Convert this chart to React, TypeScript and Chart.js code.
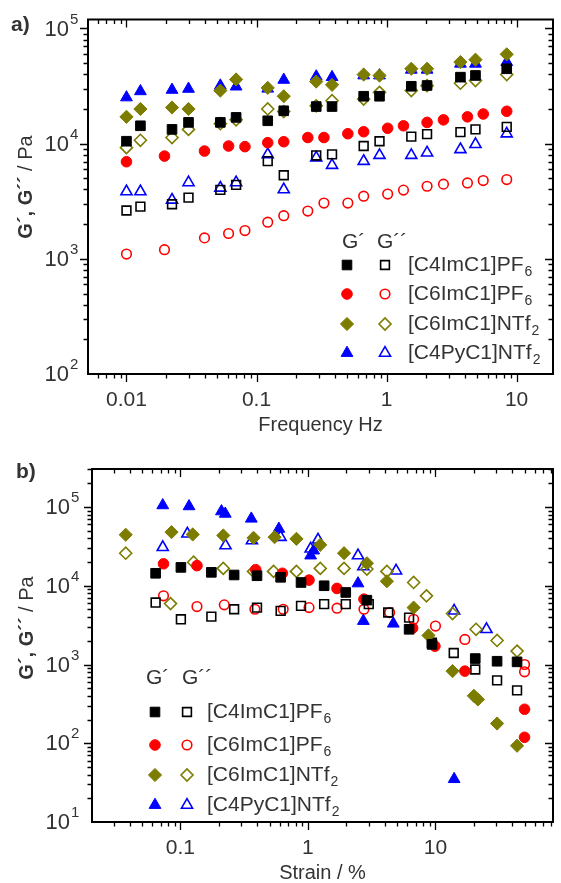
import React, { useEffect, useRef } from 'react';
import { Chart, registerables } from 'chart.js';
Chart.register(...registerables);

// ---------------- Panel a) frequency sweep ----------------
const freqA = [0.01, 0.0128, 0.0224, 0.03, 0.0527, 0.0697, 0.122, 0.162, 0.288, 0.381, 0.667, 0.883, 1.55, 2.05, 3.7, 4.83, 8.4];
const freqA_C6PF6 = [0.01, 0.0196, 0.0398, 0.061, 0.0815, 0.122, 0.162, 0.248, 0.33, 0.504, 0.667, 1.02, 1.35, 2.05, 2.74, 4.19, 5.54, 8.4];

const a_Gp_C4ImC1PF6 = [10500, 14300, 13300, 15300, 15300, 16900, 15800, 19300, 21000, 21000, 25800, 25800, 31500, 32000, 37800, 39100, 44700];
const a_Gpp_C4ImC1PF6 = [2630, 2840, 2980, 3400, 3970, 4390, 7050, 5320, 7900, 8070, 9540, 10500, 11500, 12100, 12600, 13300, 14000];
const a_Gp_C6ImC1PF6 = [6970, 7800, 8630, 9540, 9420, 10200, 10400, 11300, 11300, 12200, 12700, 13600, 14300, 15300, 16100, 17100, 18100, 19100];
const a_Gpp_C6ImC1PF6 = [1100, 1200, 1520, 1660, 1760, 2080, 2370, 2600, 3050, 3050, 3500, 3650, 3950, 4270, 4450, 4560, 4780, 4880];
const a_Gp_C6ImC1NTf2 = [17100, 20000, 20600, 20000, 28900, 36100, 30500, 25800, 34600, 32400, 39800, 39000, 44700, 44700, 51100, 53600, 59700];
const a_Gpp_C6ImC1NTf2 = [9230, 10700, 11300, 13300, 14900, 16100, 20000, 19000, 21300, 23600, 24400, 27900, 28900, 31900, 33500, 35300, 39800];
const a_Gp_C4PyC1NTf2 = [25200, 28500, 29300, 29900, 31900, 31300, 30000, 35800, 38300, 37800, 39100, 39100, 43800, 43800, 49400, 49400, 51100];
const a_Gpp_C4PyC1NTf2 = [3840, 3840, 3250, 4600, 4130, 4600, 8070, 3990, 7550, 6500, 7050, 7940, 7940, 8340, 8920, 9860, 12200];

// ---------------- Panel b) strain sweep ----------------
const b_x_Gp_C4ImC1PF6 = [0.064, 0.101, 0.175, 0.264, 0.399, 0.611, 0.883, 1.34, 1.98, 2.9, 6.21, 9.4, 20.5, 30.4, 43.6];
const b_Gp_C4ImC1PF6 = [14400, 17100, 14800, 13700, 13400, 12800, 11000, 10000, 8220, 6560, 2800, 1800, 1190, 1100, 1080];
const b_x_Gpp_C4ImC1PF6 = [0.064, 0.101, 0.175, 0.264, 0.399, 0.611, 0.883, 1.34, 1.98, 3.0, 4.26, 6.21, 9.37, 13.9, 20.5, 30.4, 43.6];
const b_Gpp_C4ImC1PF6 = [6120, 3750, 4060, 5030, 5280, 4800, 5560, 5840, 5840, 5840, 4570, 3940, 1890, 1400, 865, 628, 470];
const b_x_Gp_C6ImC1PF6 = [0.0738, 0.135, 0.39, 0.631, 1.02, 1.69, 2.75, 6.62, 9.9, 17.0, 49.9, 49.9];
const b_Gp_C6ImC1PF6 = [19000, 18000, 16000, 14400, 11800, 9250, 6760, 2900, 1710, 824, 270, 119];
const b_x_Gpp_C6ImC1PF6 = [0.0738, 0.135, 0.221, 0.384, 0.64, 1.02, 1.69, 2.75, 4.37, 6.74, 10.0, 17.0, 49.9, 49.9];
const b_Gpp_C6ImC1PF6 = [7450, 5440, 5720, 5030, 5030, 5280, 5190, 5030, 4570, 3750, 3080, 2080, 1000, 808];
const b_x_Gp_C6ImC1NTf2 = [0.0373, 0.0853, 0.125, 0.217, 0.375, 0.548, 0.813, 1.25, 1.92, 2.9, 4.16, 6.74, 8.81, 13.6, 20.0, 21.5, 30.4, 43.6];
const b_Gp_C6ImC1NTf2 = [44400, 48000, 44800, 43500, 40600, 41400, 39400, 33100, 25900, 19300, 11400, 5280, 2340, 824, 400, 360, 178, 93];
const b_x_Gpp_C6ImC1NTf2 = [0.0373, 0.0838, 0.127, 0.217, 0.375, 0.538, 0.813, 1.25, 1.92, 2.9, 4.16, 6.74, 8.5, 13.6, 20.8, 30.4, 43.6];
const b_Gpp_C6ImC1NTf2 = [25900, 5940, 19900, 16600, 15200, 15200, 15200, 16600, 16600, 16300, 15200, 11000, 7450, 4440, 2800, 2020, 1480];
const b_x_Gp_C4PyC1NTf2 = [0.0728, 0.117, 0.21, 0.225, 0.36, 0.592, 1.05, 1.11, 2.47, 2.72, 4.67, 14.0];
const b_Gp_C4PyC1NTf2 = [105000, 102000, 88000, 82000, 71000, 52800, 24200, 28000, 10700, 3570, 3300, 35];
const b_x_Gpp_C4PyC1NTf2 = [0.0728, 0.1135, 0.226, 0.364, 0.61, 1.05, 1.2, 2.47, 2.72, 4.91, 14.0, 25.1];
const b_Gpp_C4PyC1NTf2 = [30800, 45700, 32400, 37500, 41400, 29400, 38300, 24200, 17500, 15500, 4800, 2800];

// ---------------- Labels ----------------
const legendNames = ['[C4ImC1]PF', '[C6ImC1]PF', '[C6ImC1]NTf', '[C4PyC1]NTf'];
const legendSubs = ['6', '6', '2', '2'];
const xTicksA = [0.01, 0.1, 1, 10];
const xTickLabelsA = ['0.01', '0.1', '1', '10'];
const yExpA = [2, 3, 4, 5];
const xTicksB = [0.1, 1, 10];
const xTickLabelsB = ['0.1', '1', '10'];
const yExpB = [1, 2, 3, 4, 5];

// ---------------- Styles ----------------
const COLORS = ['#000000', '#ff0000', '#7c7c00', '#0000ff'];
const STYLES = ['rect', 'circle', 'rectRot', 'triangle'];
const R_FILLED = [6.8, 5.3, 6.6, 6.8];
const R_OPEN = [6.2, 4.8, 6.0, 6.4];
const TEXT = '#333333';
const FONT = '"Liberation Sans", Arial, sans-serif';

function drawMarker(ctx: CanvasRenderingContext2D, style: string, x: number, y: number, r: number, filled: boolean, color: string, lw: number) {
  ctx.save();
  ctx.beginPath();
  if (style === 'circle') ctx.arc(x, y, r, 0, Math.PI * 2);
  else if (style === 'rect') { const s = Math.SQRT1_2 * r; ctx.rect(x - s, y - s, 2 * s, 2 * s); }
  else if (style === 'rectRot') { ctx.moveTo(x - r, y); ctx.lineTo(x, y - r); ctx.lineTo(x + r, y); ctx.lineTo(x, y + r); ctx.closePath(); }
  else {
    for (let k = 0; k < 3; k++) {
      const a = (k * 2 * Math.PI) / 3;
      const px = x + Math.sin(a) * r, py = y - Math.cos(a) * r;
      if (k === 0) ctx.moveTo(px, py); else ctx.lineTo(px, py);
    }
    ctx.closePath();
  }
  if (filled) { ctx.fillStyle = color; ctx.fill(); }
  ctx.strokeStyle = color;
  ctx.lineWidth = lw;
  ctx.stroke();
  ctx.restore();
}

type Cfg = {
  h: number;
  area: { left: number; top: number; right: number; bottom: number };
  xMin: number; xMax: number; yMin: number; yMax: number;
  xTicks: number[]; xTickLabels: string[]; yExp: number[];
  xTitle: string; letter: string; letterPos: [number, number];
  yTitlePos: [number, number];
  yLabelRight: number;
  legend: { headerY: number; gp1X: number; gp2X: number; rows: number[]; filledX: number; openX: number; textX: number };
  filled: { x: number[]; y: number[] }[];
  open: { x: number[]; y: number[] }[];
};

function axesPlugin(cfg: Cfg) {
  return {
    id: 'customAxes',
    beforeDatasetsDraw(chart: any) {
      const ctx: CanvasRenderingContext2D = chart.ctx;
      const { left, right, top, bottom } = chart.chartArea;
      const xs = chart.scales.x, ys = chart.scales.y;
      ctx.save();
      ctx.strokeStyle = '#000';
      ctx.lineWidth = 1.3;
      ctx.beginPath();
      const eps = 1.0005;
      for (let d = Math.floor(Math.log10(cfg.xMin)); d <= Math.ceil(Math.log10(cfg.xMax)); d++) {
        for (let m = 1; m <= 9; m++) {
          const v = m * Math.pow(10, d);
          if (v < cfg.xMin * eps || v > cfg.xMax / eps) continue;
          const px = Math.round(xs.getPixelForValue(v)) + 0.5;
          const len = m === 1 ? 8 : 4.5;
          ctx.moveTo(px, bottom); ctx.lineTo(px, bottom + len);
          ctx.moveTo(px, top); ctx.lineTo(px, top + len);
        }
      }
      for (let d = Math.floor(Math.log10(cfg.yMin)); d <= Math.ceil(Math.log10(cfg.yMax)); d++) {
        for (let m = 1; m <= 9; m++) {
          const v = m * Math.pow(10, d);
          if (v < cfg.yMin * eps || v > cfg.yMax / eps) continue;
          const py = Math.round(ys.getPixelForValue(v)) + 0.5;
          const len = m === 1 ? 8 : 4.5;
          ctx.moveTo(left, py); ctx.lineTo(left - len, py);
          ctx.moveTo(right, py); ctx.lineTo(right - len, py);
        }
      }
      ctx.stroke();
      ctx.lineWidth = 2;
      ctx.strokeRect(left, top, right - left, bottom - top);
      ctx.restore();
    },
    afterDraw(chart: any) {
      const ctx: CanvasRenderingContext2D = chart.ctx;
      const { left, right, bottom } = chart.chartArea;
      const xs = chart.scales.x, ys = chart.scales.y;
      ctx.save();
      ctx.fillStyle = TEXT;
      // x tick labels
      ctx.font = `21px ${FONT}`;
      ctx.textAlign = 'center';
      ctx.textBaseline = 'middle';
      cfg.xTicks.forEach((v, i) => {
        ctx.fillText(cfg.xTickLabels[i], xs.getPixelForValue(v), bottom + 26);
      });
      // x title
      ctx.font = `20px ${FONT}`;
      ctx.fillText(cfg.xTitle, (left + right) / 2, bottom + 51);
      // y tick labels
      cfg.yExp.forEach((e) => {
        const py = ys.getPixelForValue(Math.pow(10, e));
        ctx.font = `22px ${FONT}`;
        ctx.textAlign = 'right';
        ctx.textBaseline = 'middle';
        ctx.fillText('10', cfg.yLabelRight, py + 1);
        ctx.font = `15px ${FONT}`;
        ctx.textAlign = 'left';
        ctx.fillText(String(e), cfg.yLabelRight + 1, py - 9);
      });
      // y title
      ctx.save();
      ctx.translate(cfg.yTitlePos[0], cfg.yTitlePos[1]);
      ctx.rotate(-Math.PI / 2);
      ctx.textBaseline = 'middle';
      ctx.textAlign = 'left';
      const boldPart = 'G\u00B4, G\u00B4\u00B4';
      const normPart = ' / Pa';
      ctx.font = `bold 20px ${FONT}`;
      const w1 = ctx.measureText(boldPart).width;
      ctx.font = `20px ${FONT}`;
      const w2 = ctx.measureText(normPart).width;
      const sx = -(w1 + w2) / 2;
      ctx.font = `bold 20px ${FONT}`;
      ctx.fillText(boldPart, sx, 0);
      ctx.font = `20px ${FONT}`;
      ctx.fillText(normPart, sx + w1, 0);
      ctx.restore();
      // panel letter
      ctx.font = `bold 21px ${FONT}`;
      ctx.textAlign = 'left';
      ctx.textBaseline = 'middle';
      ctx.fillText(cfg.letter, cfg.letterPos[0], cfg.letterPos[1]);
      // legend
      const L = cfg.legend;
      ctx.font = `21px ${FONT}`;
      ctx.fillText('G\u00B4', L.gp1X, L.headerY);
      ctx.fillText('G\u00B4\u00B4', L.gp2X, L.headerY);
      L.rows.forEach((ry, i) => {
        drawMarker(ctx, STYLES[i], L.filledX, ry, R_FILLED[i], true, COLORS[i], 1);
        drawMarker(ctx, STYLES[i], L.openX, ry, R_OPEN[i], false, COLORS[i], 1.6);
        ctx.fillStyle = TEXT;
        ctx.font = `21px ${FONT}`;
        ctx.textAlign = 'left';
        ctx.textBaseline = 'middle';
        ctx.fillText(legendNames[i], L.textX, ry);
        const w = ctx.measureText(legendNames[i]).width;
        ctx.font = `14px ${FONT}`;
        ctx.fillText(legendSubs[i], L.textX + w + 1, ry + 7);
      });
      ctx.restore();
    },
  };
}

function buildConfig(cfg: Cfg): any {
  const datasets: any[] = [];
  cfg.filled.forEach((s, i) => {
    datasets.push({
      data: s.x.map((x, k) => ({ x, y: s.y[k] })),
      showLine: false,
      pointStyle: STYLES[i],
      pointRadius: R_FILLED[i],
      pointHoverRadius: R_FILLED[i],
      pointBackgroundColor: COLORS[i],
      pointBorderColor: COLORS[i],
      pointBorderWidth: 1,
      backgroundColor: COLORS[i],
      borderColor: COLORS[i],
    });
  });
  cfg.open.forEach((s, i) => {
    datasets.push({
      data: s.x.map((x, k) => ({ x, y: s.y[k] })),
      showLine: false,
      pointStyle: STYLES[i],
      pointRadius: R_OPEN[i],
      pointHoverRadius: R_OPEN[i],
      pointBackgroundColor: 'rgba(0,0,0,0)',
      pointBorderColor: COLORS[i],
      pointBorderWidth: 1.6,
      backgroundColor: 'rgba(0,0,0,0)',
      borderColor: COLORS[i],
    });
  });
  return {
    type: 'scatter',
    data: { datasets },
    options: {
      responsive: false,
      animation: false,
      devicePixelRatio: 1,
      events: [],
      layout: { padding: { left: cfg.area.left, top: cfg.area.top, right: 561 - cfg.area.right, bottom: cfg.h - cfg.area.bottom } },
      scales: {
        x: { type: 'logarithmic', min: cfg.xMin, max: cfg.xMax, display: false },
        y: { type: 'logarithmic', min: cfg.yMin, max: cfg.yMax, display: false },
      },
      plugins: { legend: { display: false }, tooltip: { enabled: false } },
    },
    plugins: [axesPlugin(cfg)],
  };
}

const cfgA: Cfg = {
  h: 440,
  area: { left: 88, top: 19.5, right: 560, bottom: 374 },
  xMin: 0.00506, xMax: 19.06, yMin: 100, yMax: 119700,
  xTicks: xTicksA, xTickLabels: xTickLabelsA, yExp: yExpA,
  xTitle: 'Frequency Hz', letter: 'a)', letterPos: [11, 25],
  yTitlePos: [26, 187], yLabelRight: 69,
  legend: { headerY: 242, gp1X: 342, gp2X: 377, rows: [265, 294, 324, 353], filledX: 347, openX: 385, textX: 408 },
  filled: [
    { x: freqA, y: a_Gp_C4ImC1PF6 },
    { x: freqA_C6PF6, y: a_Gp_C6ImC1PF6 },
    { x: freqA, y: a_Gp_C6ImC1NTf2 },
    { x: freqA, y: a_Gp_C4PyC1NTf2 },
  ],
  open: [
    { x: freqA, y: a_Gpp_C4ImC1PF6 },
    { x: freqA_C6PF6, y: a_Gpp_C6ImC1PF6 },
    { x: freqA, y: a_Gpp_C6ImC1NTf2 },
    { x: freqA, y: a_Gpp_C4PyC1NTf2 },
  ],
};

const cfgB: Cfg = {
  h: 443,
  area: { left: 92, top: 29, right: 560, bottom: 382 },
  xMin: 0.0203, xMax: 83.4, yMin: 10, yMax: 303800,
  xTicks: xTicksB, xTickLabels: xTickLabelsB, yExp: yExpB,
  xTitle: 'Strain / %', letter: 'b)', letterPos: [16, 32],
  yTitlePos: [27, 188], yLabelRight: 70,
  legend: { headerY: 238, gp1X: 146, gp2X: 182, rows: [272, 305, 335, 365], filledX: 155, openX: 187, textX: 207 },
  filled: [
    { x: b_x_Gp_C4ImC1PF6, y: b_Gp_C4ImC1PF6 },
    { x: b_x_Gp_C6ImC1PF6, y: b_Gp_C6ImC1PF6 },
    { x: b_x_Gp_C6ImC1NTf2, y: b_Gp_C6ImC1NTf2 },
    { x: b_x_Gp_C4PyC1NTf2, y: b_Gp_C4PyC1NTf2 },
  ],
  open: [
    { x: b_x_Gpp_C4ImC1PF6, y: b_Gpp_C4ImC1PF6 },
    { x: b_x_Gpp_C6ImC1PF6, y: b_Gpp_C6ImC1PF6 },
    { x: b_x_Gpp_C6ImC1NTf2, y: b_Gpp_C6ImC1NTf2 },
    { x: b_x_Gpp_C4PyC1NTf2, y: b_Gpp_C4PyC1NTf2 },
  ],
};

function Panel({ cfg, top }: { cfg: Cfg; top: number }) {
  const ref = useRef<HTMLCanvasElement>(null);
  useEffect(() => {
    const chart = new Chart(ref.current as HTMLCanvasElement, buildConfig(cfg));
    return () => chart.destroy();
  }, [cfg]);
  return (
    <canvas
      ref={ref}
      width={561}
      height={cfg.h}
      style={{ position: 'absolute', left: 0, top, width: 561, height: cfg.h, display: 'block' }}
    />
  );
}

export default function App() {
  return (
    <div style={{ position: 'absolute', left: 0, top: 0, width: 561, height: 883, background: '#fff', overflow: 'hidden' }}>
      <Panel cfg={cfgA} top={0} />
      <Panel cfg={cfgB} top={440} />
    </div>
  );
}
